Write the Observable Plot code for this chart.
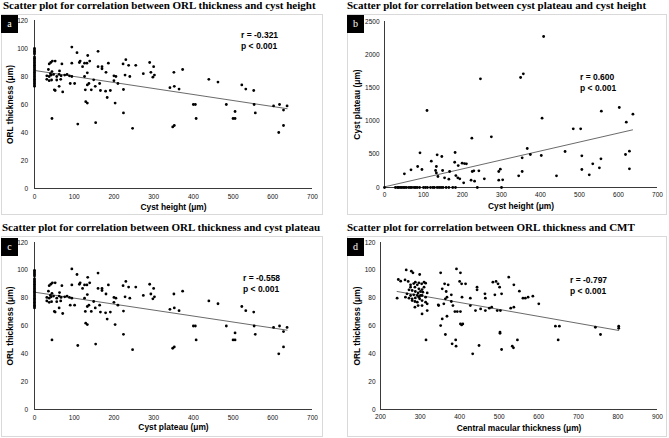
<!DOCTYPE html>
<html><head><meta charset="utf-8">
<script src="https://cdn.jsdelivr.net/npm/d3@7"></script>
<script src="https://cdn.jsdelivr.net/npm/@observablehq/plot@0.6"></script>
<style>
body{margin:0;background:#fff;}
#root{position:relative;width:669px;height:438px;overflow:hidden;background:#fff;font-family:"Liberation Sans",Arial,sans-serif;}
.box{position:absolute;border:1px solid #d9d9d9;box-sizing:border-box;background:#fff;}
.title{position:absolute;font-family:"Liberation Serif","Times New Roman",serif;font-weight:bold;font-size:11px;line-height:12px;white-space:nowrap;color:#000;}
.badge{position:absolute;background:#000;color:#fff;font-family:"Liberation Serif","Times New Roman",serif;font-size:10px;width:17px;height:18px;line-height:18px;text-align:center;}
.stat{position:absolute;font-weight:bold;font-size:8.5px;line-height:10.5px;white-space:nowrap;color:#000;}
.plot{position:absolute;}
</style></head>
<body><div id="root"></div>
<script>
// Panel a (and c, which shows the same cloud): [x, ORL thickness]
const orlVsCystHeight = [
  [0,73],[0,74],[0,75],[0,76],[0,77],[0,78],[0,79],[0,80],[0,81],[0,82],[0,83],[0,84],[0,85],[0,86],[0,87],[0,88],[0,89],[0,90],[0,91],[0,92],[0,93],[0,94],[0,96],[0,97],[0,98],[0,99],[0,100],
  [94,101],[107,97],[160,98],[134,95],[41,90],[45,91],[52,91],[37,89],[69,89],[94,89.5],[113,90],[115,91],[126,89.5],[132,89.5],[139,91],[121,87],[160,87],[170,87],[170,85.5],[186,89.5],[223,89],[230,92],[237,88],[255,88],[290,90],[300,87],[274,82],[293,83],[302,81],[298,79.5],[351,83],[373,85],[228,81],[240,80],[200,80.5],[205,80],[180,83],[133,82.6],[63,84],[35,85],[40,82],[44,83.5],
  [31,80.5],[37,80],[42,81],[48,81.5],[56,80],[62,81.5],[67,80.5],[76,81],[82,81.5],[88,80.5],[94,80],[31,78],[37,77],[43,77.5],[56,77.5],[66,78],
  [126,80],[149,77.6],[133,74],[137,75],[164,75],[200,77],[210,75],[224,70.7],[341,72],[352,73],[364,71],[439,78],[462,76],[522,74],[532,71],[552,70],[50,70.5],[52,70],[71,69],[62,73],[90,75],[101,75],[153,73],[128,70.5],[143,70.5],[166,70],[179,69.5],[191,70],[183,65],[203,61],[129,62],[133,61],[224,54],[247,43],[44,50],[109,46],[154,47],[400,60],[405,60],[407,50],[348,44],[352,45],[483,60],[505,55],[500,50],[505,50],[553,60],[556,54],[602,59],[617,60],[636,59],[627,56],[627,45],[615,40]
];
// Panel b: [cyst height, cyst plateau]
const plateauVsCystHeight = [
  [0,0],[28,0],[33,0],[36,0],[40,0],[44,0],[48,0],[52,0],[56,0],[62,0],[66,0],[70,0],[76,0],[80,0],[84,0],[90,0],[100,0],[105,0],[110,0],[118,0],[124,0],[128,0],[135,0],[140,0],[145,0],[150,0],[158,0],[165,0],[175,0],[182,0],[238,0],[300,0],
  [408,2274],[246,1637],[349,1657],[356,1712],[109,1160],[404,1044],[602,1205],[556,1150],[637,1104],[620,984],[484,884],[503,884],[224,743],[274,763],[366,587],[91,522],[181,527],[135,492],[147,467],[120,397],[180,380],[189,330],[199,366],[205,361],[210,356],[133,316],[85,316],[68,266],[96,271],[51,206],[131,256],[133,220],[149,256],[167,241],[154,145],[165,125],[137,166],[183,180],[188,145],[193,130],[203,70],[225,241],[229,251],[242,251],[222,110],[231,95],[256,130],[293,241],[297,276],[293,110],[303,115],[344,176],[353,447],[353,241],[374,497],[402,482],[441,176],[463,542],[506,477],[506,271],[534,356],[525,191],[555,432],[551,296],[618,497],[628,547],[628,281]
];
// Panel d: [central macular thickness, ORL thickness]
const orlVsCmt = [
  [265,100.3],[278,99.4],[282,98.2],[299,97],[245,93.4],[251,92.2],[262,93.1],[270,92],[288,91.5],[276,89.6],[284,90.5],[293,89.6],[297,91],[304,90.3],[310,91.5],[314,90.8],[287,87.9],[297,86.7],[305,86.2],[272,86],[280,85.5],[288,84.8],[295,83.8],[301,84.8],[307,84.3],[318,83.8],[242,80],[263,80.7],[272,80],[280,79.5],[288,80.2],[297,80.7],[284,82.4],[293,81.9],[301,81.9],[280,78.3],[287,77.6],[293,77.1],[305,78.3],[314,77.1],[295,74.7],[305,74.7],[318,75.9],[305,68.7],[318,71.1],[287,73.5],[276,87.9],[310,87.9],[267,83.1],[314,80.7],[276,81.9],[305,81.9],[299,79.5],
  [392,101],[402,98.2],[352,98.2],[362,90.3],[371,89.6],[400,92],[405,90.3],[415,90.3],[356,86.7],[366,84.8],[379,82.4],[346,75.2],[360,75.9],[364,79.5],[368,80.7],[379,77.6],[383,74.7],[388,70.4],[394,70.4],[402,70.4],[368,67],[356,65.1],[352,60.3],[405,60.8],[408,61.5],[402,61.5],[406,80.7],[427,80],[444,87.9],[444,86],[465,80],[464,83.1],[489,82.4],[492,92],[497,90.3],[501,87.9],[506,83.1],[484,91.5],[524,95.1],[537,89.6],[551,85],[560,80],[566,80],[573,80.7],[585,81.4],[600,75.9],[347,74.7],[427,74.7],[440,71.1],[453,72.3],[465,71.1],[475,72.8],[481,73.5],[495,71.1],[503,71.1],[529,72.8],[537,73.5],
  [642,59.9],[652,59.9],[743,59.1],[802,59.9],[802,58.4],[756,53.9],[649,50],[315,50],[364,53.9],[381,47.2],[391,45.5],[390,50],[433,40],[449,46],[502,55.6],[502,54.8],[506,43.1],[533,45.5],[536,44.3],[546,50]
];
// Trend line end points
const trendA = [[0,84.3],[636,57]];
const trendB = [[0,10],[636,868]];
const trendD = [[242,84.8],[802,56.8]];

const ticks0to700 = [0,100,200,300,400,500,600,700];
const ticks200to900 = [200,300,400,500,600,700,800,900];
const ticksOrl = [0,20,40,60,80,100,120];
const ticksPlateau = [0,500,1000,1500,2000,2500];

const titles = [
  "Scatter plot for correlation between ORL thickness and cyst height",
  "Scatter plot for correlation between cyst plateau and cyst height",
  "Scatter plot for correlation between ORL thickness and cyst plateau",
  "Scatter plot for correlation between ORL thickness and CMT"
];
const badges = ["a","b","c","d"];
const stats = [["r = -0.321","p < 0.001"],["r = 0.600","p < 0.001"],["r = -0.558","p < 0.001"],["r = -0.797","p < 0.001"]];
const xLabels = ["Cyst height (μm)","Cyst height (μm)","Cyst plateau (μm)","Central macular thickness (μm)"];
const yLabels = ["ORL thickness (μm)","Cyst plateau (μm)","ORL thickness (μm)","ORL thickness (μm)"];

const root = document.getElementById("root");
function el(cls, css, text){const d=document.createElement("div");d.className=cls;Object.assign(d.style,css);if(text!=null)d.textContent=text;root.appendChild(d);return d;}

const toObj = arr => arr.map(([x,y]) => ({x,y}));

const panels = [
  {data:orlVsCystHeight, trend:trendA, xd:[0,700], yd:[0,120], xt:ticks0to700, yt:ticksOrl,
   left:0, top:14, w:330, h:205, m:[6,18,31,34], xPad:6, yPad:6.5, xDy:19, yDx:24,
   box:[1,14,322,201], title:[3,-1], badge:[1,15], stat:[241,30]},
  {data:plateauVsCystHeight, trend:trendB, xd:[0,700], yd:[0,2500], xt:ticks0to700, yt:ticksPlateau,
   left:340, top:14, w:329, h:205, m:[7,12,32,44], xPad:4.5, yPad:5, xDy:19, yDx:27,
   box:[347,14,320,201], title:[347,-1], badge:[347,15], stat:[580,72]},
  {data:orlVsCystHeight, trend:trendA, xd:[0,700], yd:[0,120], xt:ticks0to700, yt:ticksOrl,
   left:0, top:236, w:330, h:205, m:[6,18,32,34], xPad:5.5, yPad:6.5, xDy:18, yDx:24,
   box:[1,236,322,201], title:[2,221], badge:[1,238], stat:[243,273]},
  {data:orlVsCmt, trend:trendD, xd:[200,900], yd:[0,120], xt:ticks200to900, yt:ticksOrl,
   left:340, top:236, w:329, h:205, m:[6,12,32,40], xPad:5, yPad:5, xDy:19, yDx:23,
   box:[347,236,320,201], title:[347,221], badge:[347,238], stat:[570,275]}
];

panels.forEach((p,i) => {
  el("box",{left:p.box[0]+"px",top:p.box[1]+"px",width:p.box[2]+"px",height:p.box[3]+"px"});
});
panels.forEach((p,i) => {
  const axisColor = "#3a3a3a";
  const svg = Plot.plot({
    width:p.w, height:p.h,
    marginTop:p.m[0], marginRight:p.m[1], marginBottom:p.m[2], marginLeft:p.m[3],
    style:{background:"transparent", fontFamily:"'Liberation Sans', Arial, sans-serif", fontSize:"6.5px", color:"#111", overflow:"visible"},
    x:{domain:p.xd},
    y:{domain:p.yd},
    marks:[
      Plot.axisX({ticks:p.xt, tickSize:0, tickPadding:p.xPad, label:null, tickFormat:d=>String(d)}),
      Plot.axisY({ticks:p.yt, tickSize:0, tickPadding:p.yPad, label:null, tickFormat:d=>String(d)}),
      Plot.ruleY([p.yd[0]], {stroke:axisColor, strokeWidth:1}),
      Plot.ruleX([p.xd[0]], {stroke:axisColor, strokeWidth:1}),
      Plot.line(toObj(p.trend), {x:"x", y:"y", stroke:"#444", strokeWidth:0.8}),
      Plot.dot(toObj(p.data), {x:"x", y:"y", r:1.4, fill:"#000", stroke:"none"}),
      Plot.text([xLabels[i]], {text:d=>d, frameAnchor:"bottom", textAnchor:"middle", lineAnchor:"middle", dy:p.xDy, fontWeight:"bold", fontSize:8.4, fill:"#000"}),
      Plot.text([yLabels[i]], {text:d=>d, frameAnchor:"left", textAnchor:"middle", lineAnchor:"middle", dx:-p.yDx, rotate:-90, fontWeight:"bold", fontSize:8.4, fill:"#000"})
    ]
  });
  svg.classList.add("plot");
  svg.style.position = "absolute";
  svg.style.left = p.left+"px";
  svg.style.top = p.top+"px";
  root.appendChild(svg);
  el("title",{left:p.title[0]+"px",top:p.title[1]+"px"}, titles[i]);
  el("badge",{left:p.badge[0]+"px",top:p.badge[1]+"px"}, badges[i]);
  const s = el("stat",{left:p.stat[0]+"px",top:p.stat[1]+"px"});
  s.innerHTML = stats[i][0] + "<br>" + stats[i][1];
});
</script>
</body></html>
